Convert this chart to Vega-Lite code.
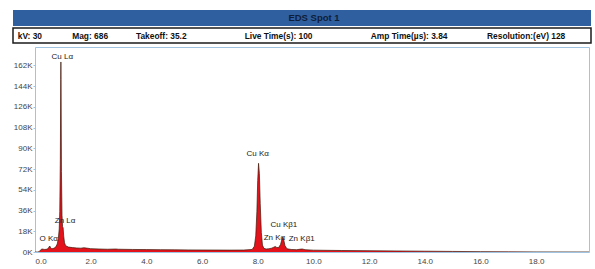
{
  "$schema": "https://vega.github.io/schema/vega-lite/v6.json",
  "padding": {"left": 12, "top": 10, "right": 0, "bottom": 0},
  "autosize": {"type": "pad"},
  "background": "white",
  "spacing": 2,
  "config": {"font": "Liberation Sans", "view": {"stroke": "#9fc3e0", "strokeWidth": 1}},
  "datasets": {
    "spectrum": [
      {"keV": 0.0, "counts": 0}, {"keV": 0.1, "counts": 0}, {"keV": 0.15, "counts": 300},
      {"keV": 0.2, "counts": 1800}, {"keV": 0.25, "counts": 2600}, {"keV": 0.3, "counts": 2400},
      {"keV": 0.35, "counts": 2200}, {"keV": 0.4, "counts": 2300}, {"keV": 0.45, "counts": 2600},
      {"keV": 0.5, "counts": 4200}, {"keV": 0.53, "counts": 5200}, {"keV": 0.56, "counts": 3800},
      {"keV": 0.6, "counts": 2800}, {"keV": 0.65, "counts": 3000}, {"keV": 0.7, "counts": 3600},
      {"keV": 0.75, "counts": 4500}, {"keV": 0.8, "counts": 7000}, {"keV": 0.84, "counts": 12000},
      {"keV": 0.87, "counts": 20000}, {"keV": 0.89, "counts": 35000}, {"keV": 0.91, "counts": 80000},
      {"keV": 0.925, "counts": 150000}, {"keV": 0.93, "counts": 165000}, {"keV": 0.935, "counts": 150000},
      {"keV": 0.95, "counts": 70000}, {"keV": 0.97, "counts": 32000}, {"keV": 0.99, "counts": 22000},
      {"keV": 1.01, "counts": 21000}, {"keV": 1.03, "counts": 14000}, {"keV": 1.06, "counts": 8000},
      {"keV": 1.1, "counts": 5500}, {"keV": 1.2, "counts": 4300}, {"keV": 1.35, "counts": 3800},
      {"keV": 1.5, "counts": 3500}, {"keV": 1.65, "counts": 3300}, {"keV": 1.75, "counts": 3700},
      {"keV": 1.85, "counts": 3400}, {"keV": 2.0, "counts": 2900}, {"keV": 2.3, "counts": 2600},
      {"keV": 2.6, "counts": 2400}, {"keV": 2.9, "counts": 2600}, {"keV": 3.0, "counts": 2400},
      {"keV": 3.5, "counts": 2200}, {"keV": 4.0, "counts": 2100}, {"keV": 4.5, "counts": 2000},
      {"keV": 5.0, "counts": 1900}, {"keV": 5.5, "counts": 1800}, {"keV": 6.0, "counts": 1750},
      {"keV": 6.5, "counts": 1700}, {"keV": 7.0, "counts": 1650}, {"keV": 7.5, "counts": 1700},
      {"keV": 7.8, "counts": 2200}, {"keV": 7.88, "counts": 5000}, {"keV": 7.93, "counts": 14000},
      {"keV": 7.97, "counts": 35000}, {"keV": 8.0, "counts": 62000}, {"keV": 8.03, "counts": 77000},
      {"keV": 8.06, "counts": 68000}, {"keV": 8.09, "counts": 42000}, {"keV": 8.13, "counts": 17000},
      {"keV": 8.17, "counts": 6000}, {"keV": 8.22, "counts": 3200}, {"keV": 8.3, "counts": 2600},
      {"keV": 8.4, "counts": 2800}, {"keV": 8.5, "counts": 3300}, {"keV": 8.58, "counts": 4200},
      {"keV": 8.63, "counts": 4800}, {"keV": 8.68, "counts": 4000}, {"keV": 8.75, "counts": 3800},
      {"keV": 8.82, "counts": 6500}, {"keV": 8.87, "counts": 11000}, {"keV": 8.9, "counts": 13000},
      {"keV": 8.93, "counts": 11000}, {"keV": 8.98, "counts": 5500}, {"keV": 9.05, "counts": 2800},
      {"keV": 9.2, "counts": 2200}, {"keV": 9.4, "counts": 2000}, {"keV": 9.55, "counts": 2500},
      {"keV": 9.6, "counts": 2600}, {"keV": 9.7, "counts": 2000}, {"keV": 10.0, "counts": 1600},
      {"keV": 11.0, "counts": 1300}, {"keV": 12.0, "counts": 1100}, {"keV": 13.0, "counts": 900},
      {"keV": 14.0, "counts": 700}, {"keV": 15.0, "counts": 500}, {"keV": 16.0, "counts": 300},
      {"keV": 17.0, "counts": 150}, {"keV": 18.0, "counts": 80}, {"keV": 19.0, "counts": 40},
      {"keV": 19.9, "counts": 20}
    ],
    "peaks": [
      {"label": "Cu Lα", "keV": 0.98, "counts": 166000},
      {"label": "Zn Lα", "keV": 1.08, "counts": 23500},
      {"label": "O Kα", "keV": 0.49, "counts": 8000},
      {"label": "Cu Kα", "keV": 8.0, "counts": 82000},
      {"label": "Cu Kβ1", "keV": 8.94, "counts": 19600},
      {"label": "Zn Kα", "keV": 8.6, "counts": 9000},
      {"label": "Zn Kβ1", "keV": 9.58, "counts": 7400}
    ]
  },
  "vconcat": [
    {
      "spacing": 1,
      "vconcat": [
        {
          "width": 578,
          "height": 16,
          "view": {"fill": "#2f5f9f", "stroke": null},
          "data": {"values": [{"title": "EDS Spot 1"}]},
          "mark": {"type": "text", "fontSize": 9.5, "fontWeight": "bold", "color": "#0e1d38", "baseline": "middle", "dx": 12},
          "encoding": {"text": {"field": "title"}}
        },
        {
          "width": 578,
          "height": 15,
          "view": {"stroke": "#1b1b1b", "strokeWidth": 1.5},
          "data": {"values": [{"info": "kV: 30\u00a0\u00a0\u00a0\u00a0\u00a0\u00a0\u00a0\u00a0\u00a0\u00a0\u00a0\u00a0\u00a0Mag: 686\u00a0\u00a0\u00a0\u00a0\u00a0\u00a0\u00a0\u00a0\u00a0\u00a0\u00a0\u00a0Takeoff: 35.2\u00a0\u00a0\u00a0\u00a0\u00a0\u00a0\u00a0\u00a0\u00a0\u00a0\u00a0\u00a0\u00a0\u00a0\u00a0\u00a0\u00a0\u00a0\u00a0\u00a0\u00a0\u00a0\u00a0\u00a0\u00a0Live Time(s): 100\u00a0\u00a0\u00a0\u00a0\u00a0\u00a0\u00a0\u00a0\u00a0\u00a0\u00a0\u00a0\u00a0\u00a0\u00a0\u00a0\u00a0\u00a0\u00a0\u00a0\u00a0\u00a0\u00a0\u00a0\u00a0Amp Time(µs): 3.84\u00a0\u00a0\u00a0\u00a0\u00a0\u00a0\u00a0\u00a0\u00a0\u00a0\u00a0\u00a0\u00a0\u00a0\u00a0\u00a0\u00a0Resolution:(eV) 128"}]},
          "mark": {"type": "text", "fontSize": 8.4, "fontWeight": "bold", "color": "#111111", "baseline": "middle", "dx": -10.5},
          "encoding": {"text": {"field": "info"}}
        }
      ]
    },
    {
      "spacing": -2,
      "hconcat": [
        {
          "width": 1,
          "height": 1,
          "view": {"stroke": null},
          "data": {"values": [{}]},
          "mark": {"type": "rect", "opacity": 0}
        },
        {
          "width": 554,
          "height": 205,
          "view": {"stroke": "#9fc3e0", "strokeWidth": 1},
          "encoding": {
            "x": {"field": "keV", "type": "quantitative",
                  "scale": {"domain": [0, 19.9], "nice": false, "zero": false},
                  "axis": {"values": [0, 2, 4, 6, 8, 10, 12, 14, 16, 18], "tickCount": 20, "format": ".1f", "title": null, "grid": false, "domain": false, "ticks": false, "labelPadding": 5, "labelFontSize": 8, "labelColor": "#444444", "labelFont": "Liberation Sans", "labelOverlap": false}},
            "y": {"field": "counts", "type": "quantitative",
                  "scale": {"domain": [0, 178000], "nice": false},
                  "axis": {"values": [0, 18000, 36000, 54000, 72000, 90000, 108000, 126000, 144000, 162000], "tickCount": 20, "labelExpr": "datum.value / 1000 + 'K'", "title": null, "grid": false, "domain": false, "ticks": true, "tickSize": 2, "tickColor": "#9fc3e0", "labelPadding": 1, "labelFontSize": 8, "labelColor": "#444444", "labelFont": "Liberation Sans", "labelOverlap": false}}
          },
          "layer": [
            {
              "data": {"name": "spectrum"},
              "mark": {"type": "area", "color": "#e3121b", "clip": true}
            },
            {
              "data": {"name": "spectrum"},
              "mark": {"type": "line", "color": "#3a1a0a", "strokeWidth": 0.7, "clip": true}
            },
            {
              "data": {"name": "peaks"},
              "mark": {"type": "text", "fontSize": 8, "baseline": "bottom", "color": "#222222"},
              "encoding": {"text": {"field": "label"}}
            }
          ]
        }
      ]
    }
  ]
}
